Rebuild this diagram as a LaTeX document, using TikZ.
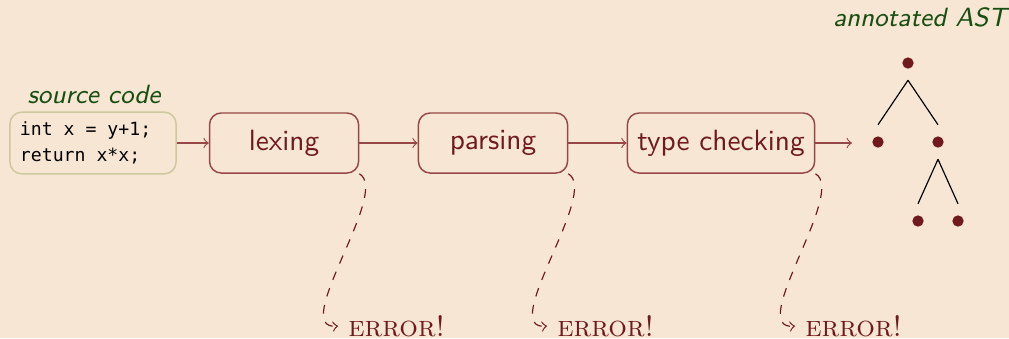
\documentclass[tikz,border=0pt]{standalone}
\usepackage{fontspec}
\setmonofont{DejaVu Sans Mono}
\usepackage{tikz}
\usetikzlibrary{positioning}

\definecolor{bgcream}{RGB}{247,230,211}
\definecolor{phasered}{RGB}{112,26,30}
\definecolor{phaseline}{RGB}{150,72,72}
\definecolor{labelgreen}{RGB}{24,78,18}
\definecolor{codeline}{RGB}{205,200,160}

\tikzset{
  phase/.style={draw=phaseline, line width=0.5pt, rounded corners=0.14cm,
    minimum width=1.788cm, minimum height=0.72cm, inner xsep=0.12cm,
    text=phasered, font=\sffamily},
  codebox/.style={draw=codeline, line width=0.5pt, rounded corners=0.14cm,
    minimum height=0.72cm, inner xsep=0.12cm, text width=1.752cm,
    align=left, font=\fontsize{6.2}{8.8}\selectfont\ttfamily},
  caption/.style={text=labelgreen, font=\fontsize{9}{11}\selectfont\sffamily\itshape},
  errmsg/.style={text=phasered, font=\rmfamily},
  dot/.style={circle, inner sep=0pt, minimum size=0.4cm,
    path picture={\fill[phasered] (path picture bounding box.center) circle (0.068cm);}},
  pipe/.style={->, draw=phaseline},
  fail/.style={->, dashed, draw=phasered},
}

\begin{document}
\begin{tikzpicture}[x=0.012cm,y=-0.012cm]
\fill[bgcream] (0,0) rectangle (1009,338);
\useasboundingbox (0,0) rectangle (1009,338);

% pipeline
\node[codebox] (src) at (93,143) {\spaceskip=0pt\relax int x = y+1;\\return x*x;};
\node[caption] (srclabel) at (94,94) {source code};
\node[phase, right=0.384cm of src] (lex) {lexing};
\node[phase, right=0.70cm of lex] (parse) {parsing};
\node[phase, right=0.70cm of parse] (check) {type checking};
\coordinate (ast) at (852,143);
\draw[pipe] (src) -- (lex);
\draw[pipe] (lex) -- (parse);
\draw[pipe] (parse) -- (check);
\draw[pipe] (check) -- (ast);

% annotated tree
\node[caption] (astlabel) at (920,17) {annotated AST};
\node[dot] (root) at (908,63) {};
\node[dot] (left) at (878,142) {};
\node[dot] (right) at (938,142) {};
\node[dot] (rleft) at (918,221) {};
\node[dot] (rright) at (958,221) {};
\draw (root.south) -- (left.north);
\draw (root.south) -- (right.north);
\draw (right.south) -- (rleft.north);
\draw (right.south) -- (rright.north);

% errors
\node[errmsg, anchor=west] (lexerr) at (338,326) {\textsc{error!}};
\node[errmsg, anchor=west] (parseerr) at (547,326) {\textsc{error!}};
\node[errmsg, anchor=west] (checkerr) at (795,326) {\textsc{error!}};
\draw[fail] (lex.south east) .. controls +(32,18) and +(-50,5) .. (lexerr.west);
\draw[fail] (parse.south east) .. controls +(32,18) and +(-50,5) .. (parseerr.west);
\draw[fail] (check.south east) .. controls +(32,18) and +(-50,5) .. (checkerr.west);
\end{tikzpicture}
\end{document}
